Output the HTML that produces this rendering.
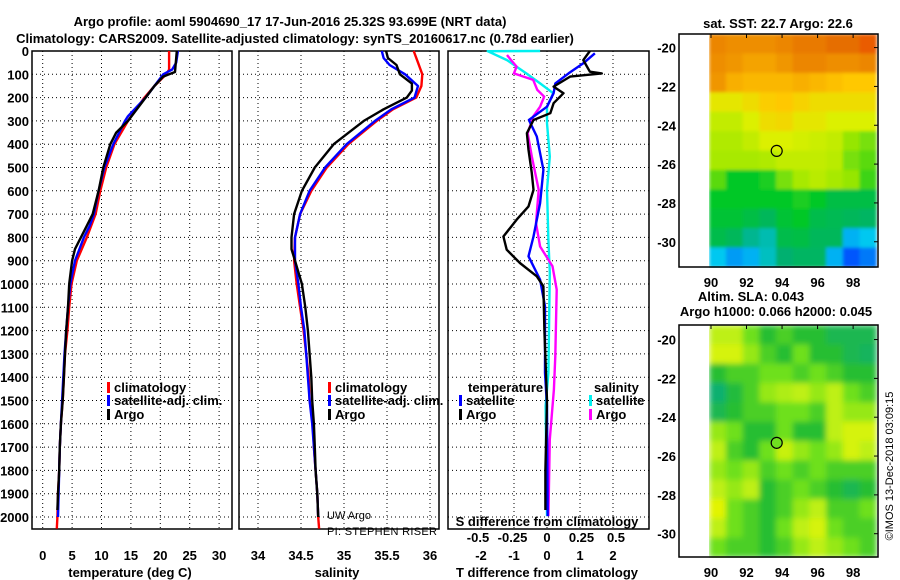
<!DOCTYPE html>
<html><head><meta charset="utf-8">
<style>
html,body{margin:0;padding:0;background:#fff;}
svg{display:block;font-family:"Liberation Sans",sans-serif;}
.b{font-weight:bold;font-size:13px;}
.n{font-weight:normal;font-size:11px;}
</style></head>
<body>
<svg id="c" width="900" height="580" viewBox="0 0 900 580" xmlns="http://www.w3.org/2000/svg">
<defs>
<filter id="blur1" x="0" y="0" width="1" height="1"><feGaussianBlur stdDeviation="1.5" edgeMode="duplicate"/></filter>
<filter id="blur2" x="0" y="0" width="1" height="1"><feGaussianBlur stdDeviation="3" edgeMode="duplicate"/></filter>
</defs>
<text x="290" y="26" text-anchor="middle" class="b" font-size="14">Argo profile: aoml 5904690_17 17-Jun-2016 25.32S 93.699E (NRT data)</text>
<text x="295" y="43" text-anchor="middle" class="b" font-size="14">Climatology: CARS2009. Satellite-adjusted climatology: synTS_20160617.nc (0.78d earlier)</text>
<g id="g"></g>
</svg>
<script>
// ---- data ----
const depthTicks=[0,100,200,300,400,500,600,700,800,900,1000,1100,1200,1300,1400,1500,1600,1700,1800,1900,2000];
const tTicks=[0,5,10,15,20,25,30];
const sTicks=[34,34.5,35,35.5,36];
const dtTicks=[-2,-1,0,1,2];
const dsTicks=[-0.5,-0.25,0,0.25,0.5];
const dsTickLabels=["-0.5","-0.25","0","0.25","0.5"];
const tClimD=[0,80,100,150,200,300,400,500,600,700,800,900,1000,1100,1200,1300,1400,1500,1600,1700,1800,1900,2000,2050];
const tClim=[21.5,21.5,21,19,17.3,14.5,12.2,10.8,9.8,9,7.5,5.8,4.9,4.5,4.2,3.8,3.6,3.4,3.1,2.9,2.8,2.6,2.5,2.4];
const tSatD=[0,50,80,100,150,200,280,300,400,500,600,700,750,800,900,1000,1100,1200,1300,1400,1500,1600,1700,1800,1900,2000];
const tSat=[23,22.7,22,20.5,19,17.5,14.5,14,12,10.5,9.5,8.7,8,7,5.5,4.7,4.3,4,3.7,3.5,3.3,3.1,2.9,2.8,2.7,2.6];
const tArgoD=[0,90,100,110,150,200,300,350,400,500,600,700,750,800,850,900,1000,1100,1200,1300,1400,1500,1600,1700,1800,1900,1970];
const tArgo=[22.8,22.5,21.5,20.5,19,17.5,14.5,12.5,11.5,10.3,9.5,8.5,7.5,6.5,5.5,5,4.5,4.3,4,3.8,3.6,3.4,3.1,2.9,2.8,2.6,2.5];
const sClimD=[0,50,100,150,200,250,300,400,500,600,700,800,900,1000,1100,1200,1300,1400,1500,1600,1700,1800,1900,2000,2050];
const sClim=[35.81,35.86,35.91,35.9,35.84,35.57,35.38,35.05,34.8,34.62,34.49,34.43,34.42,34.45,34.49,34.53,34.56,34.59,34.6,34.64,34.65,34.67,34.69,34.7,34.71];
const sSatD=[0,30,60,100,150,200,250,300,400,500,600,700,800,900,1000,1100,1200,1300,1400,1500,1600,1700,1800,1900,2000];
const sSat=[35.44,35.46,35.53,35.71,35.86,35.82,35.55,35.36,35.03,34.78,34.6,34.49,34.43,34.43,34.47,34.5,34.54,34.56,34.58,34.6,34.63,34.65,34.67,34.69,34.7];
const sArgoD=[0,30,60,100,140,170,200,250,300,400,500,600,700,800,850,900,1000,1100,1200,1300,1400,1500,1600,1700,1800,1900,2000];
const sArgo=[35.49,35.51,35.61,35.65,35.79,35.79,35.73,35.46,35.23,34.88,34.66,34.51,34.42,34.39,34.39,34.43,34.51,34.55,34.58,34.6,34.62,34.63,34.65,34.66,34.67,34.69,34.7];
const dtSatD=[10,53,96,139,181,239,296,367,510,653,796,881,981,1096,1381,1524,1996];
const dtSat=[1.45,1.1,0.65,0.25,0.2,0,-0.55,-0.31,-0.11,-0.21,-0.41,-0.56,-0.21,-0.06,-0.06,0,0.02];
const dtArgoD=[0,39,89,96,110,153,181,224,267,296,353,424,524,596,667,724,796,853,910,967,1010,1200,1500,1800,1970];
const dtArgo=[1.3,1.1,1.3,1.66,0.7,0.2,0.5,0.2,0.1,-0.41,-0.61,-0.56,-0.46,-0.41,-0.56,-0.92,-1.32,-1.22,-0.82,-0.31,-0.11,-0.08,0,-0.05,-0.05];
const dsSatD=[0,1,39,96,139,181,239,310,453,596,810,953,1381,1524,1996];
const dsSat=[-0.05,-0.43,-0.29,-0.15,-0.05,0.045,0,0,0.02,0,0.01,0.02,0.01,-0.01,0];
const dsArgoD=[17,39,67,96,124,167,196,239,281,353,453,596,739,839,924,1024,1310,1453,1667,1996];
const dsArgo=[-0.29,-0.26,-0.22,-0.24,-0.1,-0.07,-0.02,-0.05,-0.1,-0.14,-0.11,-0.06,-0.08,-0.05,0.04,0.07,0.06,0.05,0.02,0.01];
const mapLons=[90,92,94,96,98];
const mapLats=[-20,-22,-24,-26,-28,-30];
const sstGrid=[
[0.82,0.8,0.8,0.8,0.82,0.85,0.85,0.88,0.88,0.9],
[0.8,0.78,0.75,0.75,0.78,0.82,0.82,0.8,0.8,0.82],
[0.78,0.72,0.7,0.7,0.7,0.72,0.7,0.68,0.66,0.66],
[0.6,0.6,0.62,0.65,0.66,0.64,0.62,0.62,0.62,0.62],
[0.55,0.55,0.58,0.62,0.63,0.6,0.6,0.58,0.58,0.58],
[0.53,0.53,0.55,0.58,0.58,0.57,0.56,0.55,0.5,0.48],
[0.52,0.52,0.52,0.53,0.55,0.55,0.55,0.54,0.48,0.46],
[0.46,0.4,0.4,0.42,0.48,0.52,0.54,0.52,0.5,0.44],
[0.4,0.4,0.4,0.4,0.4,0.42,0.4,0.36,0.36,0.36],
[0.38,0.38,0.36,0.33,0.38,0.4,0.35,0.34,0.33,0.32],
[0.35,0.33,0.28,0.26,0.35,0.36,0.33,0.33,0.2,0.22],
[0.22,0.18,0.2,0.25,0.3,0.32,0.32,0.2,0.12,0.15]];
const slaGrid=[
[0.6,0.6,0.5,0.4,0.45,0.4,0.4,0.35,0.35,0.35],
[0.65,0.65,0.55,0.45,0.4,0.5,0.4,0.4,0.35,0.33],
[0.4,0.45,0.45,0.5,0.5,0.45,0.5,0.45,0.4,0.4],
[0.3,0.38,0.45,0.55,0.58,0.6,0.55,0.6,0.5,0.45],
[0.35,0.4,0.45,0.45,0.5,0.5,0.45,0.6,0.55,0.55],
[0.55,0.5,0.4,0.4,0.5,0.4,0.4,0.6,0.65,0.65],
[0.6,0.45,0.4,0.5,0.62,0.55,0.5,0.55,0.65,0.6],
[0.55,0.5,0.55,0.45,0.5,0.45,0.5,0.45,0.45,0.45],
[0.6,0.55,0.6,0.4,0.45,0.5,0.45,0.4,0.35,0.4],
[0.68,0.5,0.45,0.4,0.45,0.55,0.6,0.45,0.45,0.5],
[0.6,0.5,0.45,0.4,0.5,0.6,0.65,0.5,0.45,0.45],
[0.5,0.45,0.45,0.4,0.45,0.55,0.6,0.55,0.5,0.45]];
const argoLon=93.699, argoLat=-25.32;

// ---- drawing ----
const NS="http://www.w3.org/2000/svg";
const G=document.getElementById('g');
function el(tag,attrs,parent){const e=document.createElementNS(NS,tag);for(const k in attrs)e.setAttribute(k,attrs[k]);(parent||G).appendChild(e);return e;}
function txt(x,y,s,anchor,cls,parent){const t=el('text',{x:x,y:y,'text-anchor':anchor||'middle','class':cls||'b'},parent);t.textContent=s;return t;}
const yD=d=>51+d*0.233;
const PB=529;
const xT=v=>42.7+v*5.88;
const xS=v=>258+(v-34)*86;
const xDT=v=>547+v*33;
const xDS=v=>547+v*138;
const panels=[{x0:32,x1:232,name:'temperature-panel'},{x0:239,x1:439,name:'salinity-panel'},{x0:448,x1:649,name:'difference-panel'}];

panels.forEach((p,i)=>{
  const g=el('g',{});
  
  
  depthTicks.forEach(d=>{
    const l=el('line',{x1:p.x0,x2:p.x1,y1:yD(d),y2:yD(d),stroke:'#000','stroke-width':1,'stroke-dasharray':'1,3'},g);
    
    
  });
  const vt=i==0?tTicks.map(xT):i==1?sTicks.map(xS):dtTicks.map(xDT);
  vt.forEach(x=>{
    const l=el('line',{x1:x,x2:x,y1:51,y2:PB,stroke:'#000','stroke-width':1,'stroke-dasharray':'1,3'},g);
    
    
  });
  const r=el('rect',{x:p.x0,y:51,width:p.x1-p.x0,height:PB-51,fill:'none',stroke:'#000','stroke-width':1.5},g);
  
  
});
depthTicks.forEach(d=>{
  const t=txt(29,yD(d)+5,String(d),'end');
  
  
});
tTicks.forEach(v=>{const t=txt(xT(v),560,String(v));});
sTicks.forEach(v=>{const t=txt(xS(v),560,String(v));});
dtTicks.forEach(v=>{const t=txt(xDT(v),560,String(v));});
dsTicks.forEach((v,i)=>{const t=txt(xDS(v),542,dsTickLabels[i]);});
let t;
t=txt(130,577,'temperature (deg C)');
t=txt(337,577,'salinity');
t=txt(547,577,'T difference from climatology');
t=txt(547,526,'S difference from climatology');
t=txt(327,519,'UW Argo','start','n');
t=txt(327,535,'PI: STEPHEN RISER','start','n');t.setAttribute('textLength','110');

function line(ds,vs,xf,color,name){
  const pts=ds.map((d,i)=>xf(vs[i]).toFixed(1)+','+yD(d).toFixed(1)).join(' ');
  const pl=el('polyline',{points:pts,fill:'none',stroke:color,'stroke-width':2.4,'stroke-linejoin':'round'});
  
  
}
line(tClimD,tClim,xT,'#ff0000','temperature-climatology-line');
line(tSatD,tSat,xT,'#0000ff','temperature-satellite-line');
line(tArgoD,tArgo,xT,'#000000','temperature-argo-line');
line(sClimD,sClim,xS,'#ff0000','salinity-climatology-line');
line(sSatD,sSat,xS,'#0000ff','salinity-satellite-line');
line(sArgoD,sArgo,xS,'#000000','salinity-argo-line');
line(dsSatD,dsSat,xDS,'#00f0f0','s-diff-satellite-line');
line(dsArgoD,dsArgo,xDS,'#ff00ff','s-diff-argo-line');
line(dtSatD,dtSat,xDT,'#0000ff','t-diff-satellite-line');
line(dtArgoD,dtArgo,xDT,'#000000','t-diff-argo-line');

function legend(x,y,color,label,name){
  const g=el('g',{});
  
  
  el('rect',{x:x,y:y-10,width:3,height:11,fill:color},g);
  txt(x+7,y,label,'start','b',g);
}
legend(107,392,'#ff0000','climatology','legend-climatology');
legend(107,405,'#0000ff','satellite-adj. clim.','legend-satellite-adj');
legend(107,419,'#000000','Argo','legend-argo');
legend(328,392,'#ff0000','climatology','legend-s-climatology');
legend(328,405,'#0000ff','satellite-adj. clim.','legend-s-satellite-adj');
legend(328,419,'#000000','Argo','legend-s-argo');
t=txt(468,392,'temperature','start');
t=txt(594,392,'salinity','start');
legend(459,405,'#0000ff','satellite','legend-t-satellite');
legend(459,419,'#000000','Argo','legend-t-argo');
legend(589,405,'#00f0f0','satellite','legend-s-satellite');
legend(589,419,'#ff00ff','Argo','legend-s-argo-diff');

// maps
function sstColor(v){
  const stops=[[0.1,[0,64,255]],[0.22,[0,200,240]],[0.3,[0,176,112]],[0.4,[0,200,40]],[0.5,[150,230,0]],[0.58,[220,240,0]],[0.66,[255,200,0]],[0.78,[240,150,0]],[0.88,[230,110,0]],[1,[255,0,0]]];
  return interp(stops,v);
}
function slaColor(v){
  const stops=[[0.3,[16,176,112]],[0.4,[40,190,50]],[0.5,[110,224,30]],[0.6,[190,240,20]],[0.7,[235,245,0]]];
  return interp(stops,v);
}
function interp(stops,v){
  if(v<=stops[0][0])return 'rgb('+stops[0][1]+')';
  for(let i=1;i<stops.length;i++){if(v<=stops[i][0]){const a=stops[i-1],b=stops[i],f=(v-a[0])/(b[0]-a[0]);return 'rgb('+a[1].map((c,k)=>Math.round(c+(b[1][k]-c)*f)).join(',')+')';}}
  return 'rgb('+stops[stops.length-1][1]+')';
}
function drawMap(cfg){
  const {x0,x1,y0,y1,lat0,lat1,grid,cf,name,circleFill,blur}=cfg;
  const lon0=88.2,lon1=99.4;
  const xL=lon=>x0+(lon-lon0)/(lon1-lon0)*(x1-x0);
  const yL=lat=>y0+(lat0-lat)/(lat0-lat1)*(y1-y0);
  const g=el('g',{});
  
  
  const rows=grid.length,cols=grid[0].length;
  const gx0=xL(89.9),gx1=xL(99.3);
  const cw=(gx1-gx0)/cols,ch=(y1-y0)/rows;
  const cg=el('g',{filter:'url(#'+blur+')'},g);
  grid.forEach((row,r)=>row.forEach((v,c)=>{
    const cell=el('rect',{x:(gx0+c*cw).toFixed(2),y:(y0+r*ch).toFixed(2),width:(cw+0.6).toFixed(2),height:(ch+0.6).toFixed(2),fill:cf(v)},cg);
    
    
  }));
  const fr=el('rect',{x:x0,y:y0,width:x1-x0,height:y1-y0,fill:'none',stroke:'#000','stroke-width':1.5},g);
  
  
  mapLats.forEach(lat=>{
    const tl=txt(x0-3,yL(lat)+5,String(lat),'end','b',g);
    
    
    el('line',{x1:x1-4,x2:x1,y1:yL(lat),y2:yL(lat),stroke:'#000'},g);
  });
  mapLons.forEach(lon=>{
    const tl=txt(xL(lon),y1+20,String(lon),'middle','b',g);
    
    
    el('line',{x1:xL(lon),x2:xL(lon),y1:y0,y2:y0+4,stroke:'#000'},g);
  });
  const ci=el('circle',{cx:xL(argoLon),cy:yL(argoLat),r:5.5,fill:circleFill,stroke:'#000','stroke-width':1.2},g);
  
  
}
drawMap({x0:679,x1:878,y0:34,y1:267,lat0:-19.3,lat1:-31.3,grid:sstGrid,cf:sstColor,name:'sst-map',circleFill:'none',blur:'blur1'});
drawMap({x0:679,x1:878,y0:325,y1:557,lat0:-19.25,lat1:-31.2,grid:slaGrid,cf:slaColor,name:'sla-map',circleFill:'#70e020',blur:'blur2'});
t=txt(778,28,'sat. SST: 22.7 Argo: 22.6');
t=txt(751,301,'Altim. SLA: 0.043');
t=txt(776,316,'Argo h1000: 0.066 h2000: 0.045');
t=txt(0,0,'©IMOS 13-Dec-2018 03:09:15','middle','n');
t.setAttribute('font-size','12');
t.setAttribute('transform','translate(893,466) rotate(-90)');


</script>
</body></html>
